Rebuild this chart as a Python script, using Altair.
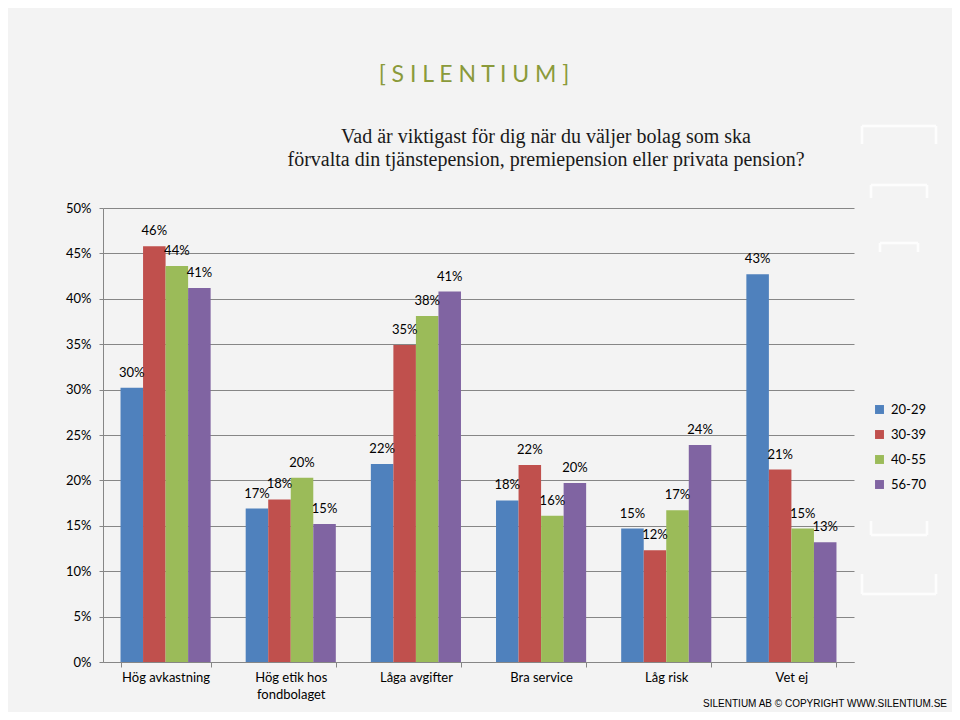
import altair as alt
import pandas as pd

categories = ["Hög avkastning", "Hög etik hos fondbolaget", "Låga avgifter",
              "Bra service", "Låg risk", "Vet ej"]
groups = ["20-29", "30-39", "40-55", "56-70"]
v_20_29 = [30.2, 16.9, 21.8, 17.8, 14.7, 42.7]
v_30_39 = [45.8, 17.9, 34.9, 21.7, 12.3, 21.2]
v_40_55 = [43.6, 20.3, 38.1, 16.1, 16.7, 14.7]
v_56_70 = [41.2, 15.2, 40.8, 19.7, 23.9, 13.2]
colors = ["#4F81BD", "#C0504D", "#9BBB59", "#8064A2"]

rows = []
for g, vals in zip(groups, [v_20_29, v_30_39, v_40_55, v_56_70]):
    for c, v in zip(categories, vals):
        rows.append({"category": c, "group": g, "value": v / 100})
df = pd.DataFrame(rows)

SANS = "Lato"
W, H = 751, 454

x_enc = alt.X("category:N", sort=categories, title=None,
              scale=alt.Scale(paddingInner=0.28, paddingOuter=0.14),
              axis=alt.Axis(labelAngle=0, labelFont=SANS, labelFontSize=13,
                            labelColor="#000000", tickBand="extent", tickSize=5,
                            tickColor="#868686", domainColor="#868686",
                            labelPadding=4, grid=False, labelLimit=200,
                            labelExpr="datum.label == 'Hög etik hos fondbolaget' ? ['Hög etik hos', 'fondbolaget'] : datum.label",
                            labelLineHeight=17))
xo_enc = alt.XOffset("group:N", sort=groups, scale=alt.Scale(paddingInner=0, paddingOuter=0))
y_enc = alt.Y("value:Q", title=None,
              scale=alt.Scale(domain=[0, 0.5], nice=False),
              axis=alt.Axis(values=[i * 0.05 for i in range(11)], format=".0%",
                            labelFont=SANS, labelFontSize=13, labelColor="#000000",
                            tickSize=4, tickColor="#868686", domainColor="#868686",
                            gridColor="#868686", gridWidth=1, labelPadding=8))

base = alt.Chart(df)
bars = base.mark_bar().encode(
    x=x_enc, xOffset=xo_enc, y=y_enc,
    color=alt.Color("group:N", sort=groups, title=None,
                    scale=alt.Scale(domain=groups, range=colors),
                    legend=alt.Legend(orient="none", legendX=770, legendY=195,
                                      symbolType="square", symbolSize=80,
                                      symbolStrokeWidth=0, labelFont=SANS,
                                      labelFontSize=13, labelColor="#000000",
                                      rowPadding=11, labelOffset=5)),
)
labels = base.mark_text(dy=-15, baseline="middle", font=SANS, fontSize=13,
                        color="#000000").encode(
    x=x_enc, xOffset=xo_enc, y=y_enc,
    text=alt.Text("value:Q", format=".0%"),
)

one = pd.DataFrame({"k": [0]})


def rule(x1, x2, y1, y2):
    return alt.Chart(one).mark_rule(color="#fdfdfd", strokeWidth=2.5).encode(
        x=alt.value(x1), x2=alt.value(x2), y=alt.value(y1), y2=alt.value(y2))


deco = []
# top brackets (legs down)
for (xa, xb, yt, yl) in [(759, 833, -82, -64), (768, 824, -23, -10), (777, 815, 35, 44)]:
    deco += [rule(xa, xb, yt, yt), rule(xa, xa, yt, yl), rule(xb, xb, yt, yl)]
# bottom brackets (legs up)
for (xa, xb, yb, yl) in [(768, 824, 327, 313), (759, 833, 386, 366)]:
    deco += [rule(xa, xb, yb, yb), rule(xa, xa, yl, yb), rule(xb, xb, yl, yb)]

logo = alt.Chart(pd.DataFrame({"t": ["[ S I L E N T I U M ]"]})).mark_text(
    font=SANS, fontSize=23, color="#8A9A3A", align="center", baseline="middle"
).encode(x=alt.value(371), y=alt.value(-133), text="t:N")

title_df = pd.DataFrame({"t": ["Vad är viktigast för dig när du väljer bolag som ska\nförvalta din tjänstepension, premiepension eller privata pension?"]})
title = alt.Chart(title_df).mark_text(
    font="Liberation Serif", fontSize=20, color="#1a1a1a", align="center",
    baseline="middle", lineBreak="\n", lineHeight=23
).encode(x=alt.value(443), y=alt.value(-71), text="t:N")

footer = alt.Chart(pd.DataFrame({"t": ["SILENTIUM AB © COPYRIGHT WWW.SILENTIUM.SE"]})).mark_text(
    font="Liberation Sans", fontSize=10, color="#000000", align="right",
    baseline="middle"
).encode(x=alt.value(844), y=alt.value(496), text="t:N")

chart = alt.layer(*deco, bars, labels, logo, title, footer).properties(
    width=W, height=H,
    autosize=alt.AutoSizeParams(type="none"),
    padding={"left": 95, "top": 200, "right": 98, "bottom": 50},
    background="#f3f3f3",
).configure_view(stroke=None)

chart.save("out.html", embed_options={"renderer": "svg", "actions": False})
